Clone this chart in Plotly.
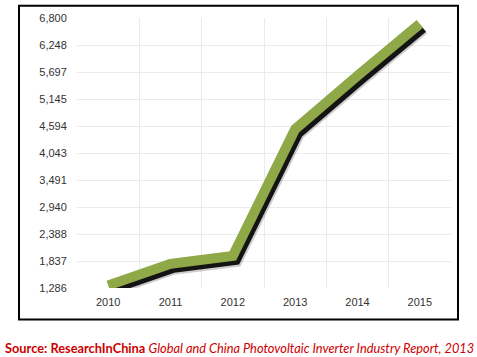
import plotly.graph_objects as go

years = ["2010", "2011", "2012", "2013", "2014", "2015"]
values = [1340, 1780, 1940, 4530, 5620, 6680]
y_ticks = [1286, 1837.4, 2388.8, 2940.2, 3491.6, 4043, 4594.4, 5145.8, 5697.2, 6248.6, 6800]
y_tick_labels = ["1,286", "1,837", "2,388", "2,940", "3,491", "4,043", "4,594", "5,145", "5,697", "6,248", "6,800"]

xpos = list(range(len(years)))

W, H = 477, 357
ml, mr, mt, mb = 77, 26, 14, 69
pw, ph = W - ml - mr, H - mt - mb
xr = [-0.5, 5.5]
yr = [1286, 6800]
# shadow offset in pixels
sdx, sdy = 3, 4
dx = sdx * (xr[1] - xr[0]) / pw
dy = sdy * (yr[1] - yr[0]) / ph

fig = go.Figure()
# shadow on base (invisible) axes, shifted ranges
fig.add_trace(go.Scatter(x=xpos, y=values, mode="lines", xaxis="x", yaxis="y",
                         line=dict(color="rgba(0,0,0,0.2)", width=14), hoverinfo="skip", showlegend=False))
fig.add_trace(go.Scatter(x=xpos, y=values, mode="lines", xaxis="x", yaxis="y",
                         line=dict(color="rgba(0,0,0,0.9)", width=10), hoverinfo="skip", showlegend=False))
# main line on overlay axes
fig.add_trace(go.Scatter(x=xpos, y=values, mode="lines", xaxis="x2", yaxis="y2",
                         line=dict(color="#8FA848", width=10), showlegend=False))

font = dict(family="Liberation Sans, Arial, sans-serif", size=11, color="#333333")

fig.update_layout(
    width=W, height=H,
    margin=dict(l=ml, r=mr, t=mt, b=mb),
    paper_bgcolor="white", plot_bgcolor="white",
    xaxis=dict(range=[xr[0] - dx, xr[1] - dx], visible=False, fixedrange=True),
    yaxis=dict(range=[yr[0] + dy, yr[1] + dy], visible=False, fixedrange=True),
    xaxis2=dict(overlaying="x", range=xr, tickvals=xpos, ticktext=years, showgrid=False,
                zeroline=False, showline=False, ticks="outside", ticklen=4, tickcolor="rgba(0,0,0,0)",
                tickfont=font,
                minor=dict(tickvals=[i - 0.5 for i in range(len(years) + 1)], showgrid=True,
                           gridcolor="#ebebeb", gridwidth=1, ticks="")),
    yaxis2=dict(overlaying="y", range=yr, tickvals=y_ticks, ticktext=y_tick_labels,
                showgrid=True, gridcolor="#ebebeb", gridwidth=1, zeroline=False,
                showline=False, ticks="outside", ticklen=7, tickcolor="rgba(0,0,0,0)", tickfont=font),
)

def px2paper_x(px):
    return (px - ml) / pw

def px2paper_y(py):
    return (H - mb - py) / ph

fig.add_shape(type="rect", xref="paper", yref="paper",
              x0=px2paper_x(19), x1=px2paper_x(458), y0=px2paper_y(320), y1=px2paper_y(1.5),
              line=dict(color="black", width=2), fillcolor="rgba(0,0,0,0)", layer="above")

fig.add_annotation(xref="paper", yref="paper", x=px2paper_x(3), y=px2paper_y(349),
                   xanchor="left", yanchor="middle", showarrow=False,
                   text="<b>Source: ResearchInChina</b> <i>Global and China Photovoltaic Inverter Industry Report, 2013</i>",
                   font=dict(family="Lato, sans-serif", size=12.8, color="#CC0000"))

fig.write_html("out.html", config={"displayModeBar": False},
               post_script="document.body.style.margin='0';")
